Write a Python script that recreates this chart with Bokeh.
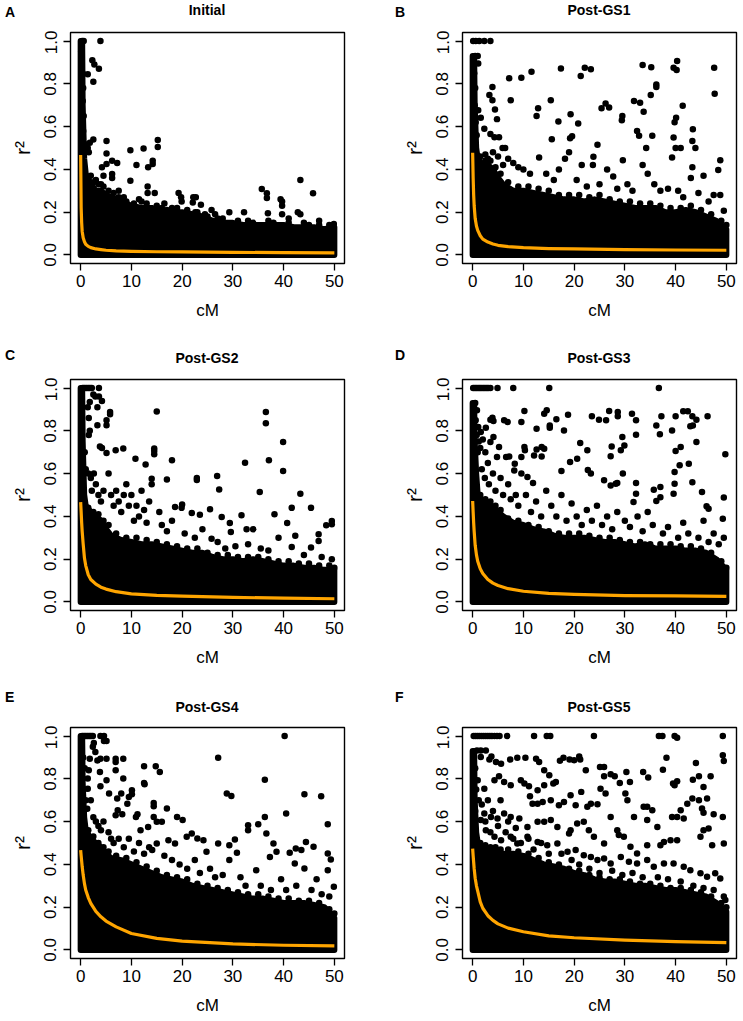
from bokeh.plotting import figure
from bokeh.layouts import column, row
from bokeh.models import FixedTicker, PrintfTickFormatter, Range1d, Div
from bokeh.embed import file_html
from bokeh.resources import INLINE

FONT = "Liberation Sans"

# ---------------- data ----------------
X_TICKS = [0, 10, 20, 30, 40, 50]
Y_TICKS = [0.0, 0.2, 0.4, 0.6, 0.8, 1.0]
LETTERS = ["A", "B", "C", "D", "E", "F"]
TITLES = ["Initial", "Post-GS1", "Post-GS2", "Post-GS3", "Post-GS4", "Post-GS5"]

# upper edge of the solid cloud of points (cM grid shared by all panels)
ENV_X = [0, 0.3, 0.4, 0.7, 1, 2, 3, 4, 5, 6, 8, 10, 12, 14, 16, 18, 20, 22, 24, 26,
         28, 30, 32, 34, 36, 38, 40, 42, 44, 46, 48, 50]
A_env = [1.0, 1.0, 0.7, 0.45, 0.38, 0.33, 0.3, 0.3, 0.28, 0.27, 0.25, 0.23, 0.22, 0.22, 0.2, 0.2,
         0.2, 0.19, 0.18, 0.16, 0.15, 0.15, 0.14, 0.14, 0.14, 0.14, 0.14, 0.13, 0.13, 0.13, 0.12, 0.13]
B_env = [0.93, 0.93, 0.7, 0.5, 0.45, 0.42, 0.42, 0.40, 0.36, 0.33, 0.30, 0.30, 0.29, 0.28, 0.27, 0.26,
         0.26, 0.25, 0.26, 0.25, 0.24, 0.23, 0.22, 0.22, 0.22, 0.2, 0.2, 0.21, 0.2, 0.18, 0.16, 0.12]
C_env = [1.0, 1.0, 0.75, 0.5, 0.45, 0.42, 0.4, 0.38, 0.34, 0.31, 0.29, 0.28, 0.27, 0.27, 0.26, 0.25,
         0.24, 0.23, 0.23, 0.21, 0.2, 0.2, 0.19, 0.2, 0.19, 0.18, 0.17, 0.17, 0.16, 0.16, 0.15, 0.15]
D_env = [0.93, 0.93, 0.75, 0.6, 0.5, 0.47, 0.46, 0.44, 0.42, 0.4, 0.37, 0.36, 0.34, 0.33, 0.31, 0.3,
         0.3, 0.3, 0.29, 0.28, 0.28, 0.27, 0.26, 0.27, 0.25, 0.25, 0.25, 0.24, 0.24, 0.23, 0.2, 0.15]
E_env = [1.0, 1.0, 0.78, 0.62, 0.56, 0.52, 0.5, 0.48, 0.45, 0.43, 0.42, 0.4, 0.38, 0.36, 0.34, 0.33,
         0.32, 0.3, 0.29, 0.28, 0.27, 0.26, 0.25, 0.24, 0.24, 0.23, 0.22, 0.22, 0.22, 0.21, 0.2, 0.15]
F_env = [0.93, 0.93, 0.7, 0.55, 0.5, 0.48, 0.47, 0.46, 0.46, 0.45, 0.45, 0.44, 0.42, 0.4, 0.39, 0.38,
         0.36, 0.35, 0.33, 0.32, 0.32, 0.31, 0.3, 0.3, 0.29, 0.28, 0.28, 0.27, 0.26, 0.25, 0.22, 0.18]

# fitted LD-decay curve (orange)
FIT_X = [0, 0.1, 0.2, 0.3, 0.5, 0.75, 1, 1.5, 2, 3, 4, 5, 7, 10, 15, 20, 30, 40, 50]
A_fit = [0.467, 0.22, 0.15, 0.11, 0.08, 0.062, 0.05, 0.04, 0.034, 0.028, 0.025, 0.022, 0.019,
         0.017, 0.015, 0.014, 0.012, 0.011, 0.01]
B_fit = [0.478, 0.36, 0.28, 0.23, 0.17, 0.135, 0.115, 0.09, 0.074, 0.06, 0.051, 0.045, 0.039,
         0.034, 0.03, 0.028, 0.025, 0.023, 0.022]
C_fit = [0.467, 0.42, 0.37, 0.33, 0.27, 0.205, 0.17, 0.127, 0.105, 0.083, 0.069, 0.06, 0.048,
         0.038, 0.031, 0.027, 0.021, 0.018, 0.015]
D_fit = [0.472, 0.42, 0.37, 0.33, 0.265, 0.22, 0.19, 0.155, 0.133, 0.105, 0.088, 0.077, 0.062,
         0.05, 0.04, 0.035, 0.03, 0.028, 0.026]
E_fit = [0.467, 0.44, 0.415, 0.39, 0.35, 0.31, 0.28, 0.245, 0.218, 0.18, 0.155, 0.135, 0.108,
         0.077, 0.054, 0.041, 0.028, 0.022, 0.019]
F_fit = [0.474, 0.44, 0.41, 0.38, 0.335, 0.3, 0.275, 0.225, 0.195, 0.16, 0.138, 0.122, 0.102,
         0.085, 0.066, 0.057, 0.046, 0.039, 0.034]

# individual points lying above the solid cloud: (cM, r2)
A_pts = [(0.1, 0.95), (0.2, 0.9), (0.4, 0.85), (0.5, 0.78), (0.4, 0.72), (0.6, 0.65), (0.5, 0.58),
         (0.7, 0.52), (1.4, 0.845), (2.3, 0.91), (2.7, 0.89), (3.6, 0.87), (2.5, 0.81), (3.9, 1.0),
         (0.3, 1.0), (0.6, 1.0), (1.8, 0.525), (2.5, 0.54), (1.4, 0.5), (1.6, 0.48), (5.1, 0.533),
         (5.1, 0.474), (5.1, 0.425), (4.2, 0.41), (6.2, 0.44), (7.2, 0.43), (6.2, 0.378), (6.2, 0.36),
         (9.8, 0.49), (9.8, 0.347), (11.0, 0.42), (12.4, 0.498), (13.3, 0.41), (14.2, 0.44),
         (14.2, 0.425), (15.2, 0.537), (15.2, 0.505), (13.2, 0.32), (13.2, 0.29), (14.6, 0.29),
         (19.3, 0.29), (19.8, 0.27), (19.9, 0.25), (22.2, 0.27), (22.7, 0.27), (22.1, 0.245),
         (22.6, 0.2), (23.7, 0.235), (25.8, 0.21), (29.3, 0.2), (32.2, 0.2), (35.7, 0.308),
         (36.7, 0.288), (36.7, 0.266), (36.9, 0.195), (39.4, 0.26), (39.7, 0.25), (39.7, 0.23),
         (39.7, 0.19), (43.3, 0.35), (42.8, 0.2), (43.3, 0.19), (45.8, 0.288), (49.9, 0.145),
         (2.0, 0.37), (3.0, 0.35), (4.0, 0.33), (4.5, 0.37), (7.5, 0.3), (8.5, 0.27), (11.5, 0.26),
         (16.5, 0.24), (18.0, 0.22), (26.5, 0.19), (41.0, 0.17), (47.0, 0.16)]
A_edge = [(1.5, 0.36), (2.5, 0.34), (3.5, 0.33), (4.5, 0.32), (5.5, 0.3), (6.5, 0.29), (7.5, 0.27),
          (9, 0.25), (10.5, 0.24), (12, 0.25), (13, 0.24), (15, 0.23), (16, 0.22), (17, 0.21),
          (19, 0.22), (21, 0.21), (23, 0.2), (24.5, 0.19), (25, 0.18), (27, 0.17), (28, 0.17),
          (31, 0.16), (33, 0.16), (34, 0.15), (37, 0.16), (38, 0.15), (41, 0.15), (44, 0.15),
          (45, 0.14), (47, 0.14), (49, 0.14)]
B_pts = [(0.1, 1.0), (0.6, 1.0), (1.3, 1.0), (2.3, 1.0), (3.5, 1.0), (0.5, 0.93), (1.0, 0.93),
         (1.1, 0.895), (0.3, 0.85), (0.5, 0.78), (0.4, 0.7), (0.6, 0.62), (0.8, 0.56), (1.1, 0.676),
         (1.6, 0.642), (2.3, 0.59), (3.3, 0.748), (3.9, 0.785), (3.9, 0.723), (4.4, 0.68),
         (4.8, 0.635), (3.5, 0.565), (4.3, 0.55), (5.2, 0.55), (5.9, 0.5), (6.4, 0.5), (7.2, 0.826),
         (7.5, 0.723), (9.6, 0.829), (11.6, 0.857), (12.6, 0.65), (12.9, 0.686), (15.4, 0.723),
         (15.6, 0.541), (17.4, 0.872), (16.9, 0.624), (19.3, 0.658), (19.2, 0.546), (19.6, 0.555),
         (20.8, 0.614), (21.3, 0.837), (22.1, 0.875), (23.3, 0.868), (24.6, 0.515), (25.4, 0.686),
         (26.2, 0.708), (26.9, 0.689), (23.8, 0.459), (23.7, 0.42), (27.7, 0.367), (29.5, 0.65),
         (29.4, 0.63), (29.6, 0.443), (31.8, 0.72), (32.4, 0.58), (32.8, 0.557), (33.0, 0.712),
         (33.5, 0.888), (33.7, 0.67), (34.2, 0.5), (35.1, 0.748), (35.2, 0.878), (35.4, 0.557),
         (36.2, 0.797), (36.2, 0.785), (39.6, 0.549), (39.8, 0.62), (40.1, 0.642), (40.0, 0.5),
         (39.6, 0.875), (40.2, 0.865), (40.3, 0.907), (39.3, 0.456), (41.4, 0.697), (41.0, 0.5),
         (43.4, 0.588), (43.3, 0.533), (43.9, 0.5), (43.3, 0.41), (47.6, 0.875), (47.7, 0.754),
         (48.8, 0.443), (48.4, 0.397), (49.5, 0.207), (2.5, 0.47), (3.0, 0.45), (4.0, 0.48),
         (5.0, 0.46), (6.0, 0.42), (7.0, 0.45), (8.0, 0.43), (9.0, 0.41), (10.0, 0.4), (11.3, 0.38),
         (13.1, 0.456), (14.5, 0.38), (16.0, 0.35), (17.0, 0.4), (18.2, 0.45), (19.0, 0.48),
         (20.5, 0.35), (21.5, 0.42), (22.5, 0.32), (25.0, 0.33), (26.5, 0.4), (28.5, 0.31),
         (30.5, 0.33), (31.5, 0.3), (33.5, 0.42), (34.5, 0.38), (35.8, 0.33), (37.0, 0.3),
         (38.5, 0.31), (40.5, 0.3), (41.5, 0.27), (43.0, 0.36), (44.5, 0.29), (45.5, 0.37),
         (46.5, 0.25), (47.5, 0.28), (48.8, 0.28)]
B_edge = [(1.5, 0.46), (2.5, 0.44), (3.5, 0.44), (4.5, 0.41), (5.5, 0.38), (7, 0.34), (9, 0.32),
          (11, 0.32), (13, 0.31), (15, 0.3), (17, 0.28), (19, 0.28), (21, 0.28), (23, 0.27),
          (25, 0.28), (27, 0.26), (29, 0.25), (31, 0.25), (33, 0.24), (35, 0.24), (37, 0.23),
          (39, 0.22), (41, 0.22), (43, 0.23), (45, 0.21), (47, 0.19), (49, 0.16), (50, 0.14)]
C_pts = [(0.4, 1.0), (0.7, 1.0), (1.0, 1.0), (1.3, 1.0), (1.6, 1.0), (1.9, 1.0), (2.2, 1.0),
         (3.6, 1.0), (2.5, 0.97), (2.9, 0.96), (3.6, 0.96), (4.2, 0.94), (1.8, 0.935), (1.4, 0.91),
         (3.3, 0.91), (1.6, 0.86), (5.8, 0.888), (5.8, 0.877), (5.1, 0.85), (5.1, 0.826),
         (3.3, 0.826), (1.8, 0.8), (1.6, 0.78), (3.8, 0.727), (4.2, 0.72), (5.1, 0.696), (6.9, 0.709),
         (8.4, 0.717), (10.8, 0.67), (12.8, 0.643), (14.5, 0.717), (14.5, 0.706), (14.5, 0.69),
         (15.0, 0.89), (18.0, 0.662), (17.0, 0.572), (14.0, 0.576), (14.0, 0.55), (22.9, 0.58),
         (22.9, 0.57), (26.9, 0.589), (27.3, 0.526), (32.4, 0.651), (35.3, 0.514), (36.5, 0.888),
         (36.5, 0.836), (37.1, 0.662), (39.9, 0.748), (39.9, 0.612), (43.3, 0.506), (45.4, 0.44),
         (38.2, 0.41), (41.6, 0.44), (40.7, 0.369), (42.3, 0.31), (49.5, 0.378), (49.5, 0.363),
         (48.4, 0.358), (45.4, 0.254), (46.9, 0.316), (46.9, 0.285), (41.6, 0.257), (20.0, 0.456),
         (19.9, 0.44), (18.6, 0.444), (21.9, 0.416), (23.5, 0.408), (25.5, 0.433), (27.8, 0.397),
         (29.4, 0.369), (31.7, 0.405), (34.0, 0.34), (32.7, 0.34), (29.6, 0.327), (25.8, 0.296),
         (0.8, 0.7), (1.0, 0.62), (1.5, 0.6), (2.0, 0.58), (2.6, 0.6), (3.0, 0.55), (2.2, 0.52),
         (3.5, 0.5), (4.0, 0.47), (4.5, 0.52), (5.5, 0.6), (6.0, 0.5), (6.5, 0.45), (7.0, 0.52),
         (7.5, 0.47), (8.0, 0.42), (8.5, 0.5), (9.0, 0.55), (9.5, 0.45), (10.0, 0.5), (10.5, 0.38),
         (11.0, 0.45), (11.5, 0.4), (12.0, 0.52), (12.5, 0.43), (13.0, 0.37), (13.5, 0.47),
         (15.5, 0.42), (16.0, 0.36), (17.0, 0.33), (18.0, 0.38), (20.5, 0.32), (22.5, 0.3),
         (24.0, 0.34), (27.0, 0.28), (28.5, 0.25), (30.5, 0.26), (33.0, 0.27), (35.5, 0.25),
         (37.0, 0.24), (39.0, 0.3), (44.0, 0.22), (47.5, 0.21), (49.5, 0.2)]
C_edge = [(1.5, 0.44), (2.5, 0.42), (3.5, 0.41), (4.5, 0.38), (5.5, 0.36), (7, 0.32), (9, 0.3),
          (11, 0.3), (13, 0.29), (15, 0.28), (17, 0.27), (19, 0.26), (21, 0.25), (23, 0.25),
          (25, 0.23), (27, 0.22), (29, 0.22), (31, 0.21), (33, 0.21), (35, 0.21), (37, 0.2),
          (39, 0.19), (41, 0.19), (43, 0.18), (45, 0.18), (47, 0.17), (49, 0.17), (50, 0.16)]
D_pts = [(0.1, 1.0), (0.4, 1.0), (0.7, 1.0), (1.0, 1.0), (1.3, 1.0), (1.6, 1.0), (1.9, 1.0),
         (2.2, 1.0), (2.5, 1.0), (2.8, 1.0), (3.1, 1.0), (3.5, 1.0), (4.9, 1.0), (8.0, 1.0),
         (15.1, 1.0), (36.7, 1.0), (0.85, 0.896), (1.1, 0.818), (1.6, 0.794), (2.6, 0.815),
         (3.5, 0.852), (3.9, 0.861), (4.1, 0.846), (6.2, 0.849), (6.9, 0.841), (9.6, 0.841),
         (10.2, 0.893), (12.6, 0.81), (14.1, 0.88), (14.6, 0.896), (15.2, 0.825), (15.2, 0.815),
         (16.5, 0.854), (18.0, 0.802), (18.8, 0.875), (23.5, 0.868), (24.9, 0.852), (26.3, 0.849),
         (26.9, 0.893), (28.6, 0.888), (28.6, 0.868), (31.4, 0.88), (32.2, 0.849), (32.2, 0.782),
         (36.2, 0.825), (37.2, 0.868), (36.9, 0.784), (39.3, 0.802), (40.0, 0.868), (41.5, 0.891),
         (42.4, 0.891), (43.3, 0.868), (42.9, 0.822), (43.4, 0.825), (44.1, 0.852), (46.3, 0.868),
         (49.8, 0.69), (49.5, 0.488), (49.3, 0.389), (3.5, 0.748), (4.1, 0.771), (5.2, 0.724),
         (4.8, 0.678), (6.6, 0.678), (7.2, 0.68), (8.3, 0.646), (9.6, 0.678), (10.2, 0.724),
         (10.3, 0.709), (12.1, 0.685), (12.6, 0.713), (13.6, 0.724), (14.1, 0.716), (13.6, 0.68),
         (8.2, 0.615), (9.6, 0.6), (10.8, 0.584), (11.9, 0.556), (17.5, 0.612), (20.6, 0.67),
         (21.2, 0.743), (22.6, 0.709), (22.7, 0.617), (23.3, 0.6), (19.2, 0.654), (25.9, 0.569),
         (27.2, 0.681), (27.4, 0.727), (27.2, 0.545), (28.2, 0.553), (28.5, 0.556), (29.2, 0.709),
         (29.5, 0.771), (29.6, 0.6), (29.9, 0.732), (32.2, 0.556), (32.2, 0.506), (31.7, 0.467),
         (35.7, 0.525), (36.2, 0.472), (37.0, 0.537), (37.0, 0.49), (39.6, 0.506), (39.8, 0.553),
         (39.8, 0.607), (40.0, 0.706), (41.0, 0.724), (40.8, 0.639), (42.6, 0.646), (43.3, 0.56),
         (45.2, 0.514), (46.1, 0.447), (46.5, 0.436), (44.1, 0.748), (0.5, 0.93), (0.3, 0.9),
         (0.6, 0.85), (0.8, 0.78), (1.2, 0.75), (1.0, 0.7), (1.5, 0.72), (2.0, 0.76), (2.5, 0.7),
         (3.0, 0.65), (1.8, 0.62), (2.4, 0.58), (3.2, 0.55), (4.0, 0.6), (4.5, 0.52), (5.5, 0.58),
         (6.0, 0.5), (7.0, 0.55), (7.5, 0.48), (8.5, 0.5), (9.0, 0.45), (10.5, 0.5), (11.5, 0.42),
         (12.5, 0.47), (13.5, 0.4), (14.5, 0.52), (15.5, 0.45), (16.5, 0.4), (17.5, 0.5),
         (18.5, 0.38), (19.5, 0.46), (20.5, 0.4), (21.5, 0.36), (22.5, 0.43), (23.5, 0.38),
         (24.5, 0.45), (25.5, 0.36), (26.5, 0.4), (27.5, 0.34), (28.5, 0.42), (30.0, 0.38),
         (31.0, 0.35), (32.5, 0.4), (33.5, 0.33), (34.5, 0.42), (35.5, 0.36), (37.5, 0.32),
         (38.5, 0.35), (40.5, 0.3), (41.5, 0.37), (42.5, 0.32), (44.5, 0.3), (45.5, 0.38),
         (46.5, 0.28), (47.5, 0.32), (48.5, 0.27), (49.5, 0.3)]
D_edge = [(1.5, 0.5), (2.5, 0.48), (3.5, 0.47), (4.5, 0.45), (5.5, 0.43), (7, 0.39), (9, 0.38),
          (11, 0.36), (13, 0.35), (15, 0.33), (17, 0.32), (19, 0.32), (21, 0.32), (23, 0.31),
          (25, 0.3), (27, 0.3), (29, 0.29), (31, 0.28), (33, 0.28), (35, 0.27), (37, 0.27),
          (39, 0.27), (41, 0.26), (43, 0.26), (45, 0.25), (47, 0.23), (49, 0.19), (50, 0.16)]
E_pts = [(0.3, 1.0), (0.6, 1.0), (0.9, 1.0), (1.2, 1.0), (1.5, 1.0), (1.8, 1.0), (2.1, 1.0),
         (2.4, 1.0), (2.6, 0.967), (2.4, 0.95), (3.9, 1.0), (4.6, 1.0), (4.6, 0.977), (5.1, 0.977),
         (40.2, 1.0), (2.9, 0.925), (1.8, 0.894), (3.3, 0.886), (3.9, 0.894), (5.1, 0.894),
         (6.9, 0.894), (8.4, 0.894), (6.9, 0.879), (1.6, 0.84), (6.9, 0.84), (3.8, 0.832),
         (1.4, 0.801), (5.1, 0.793), (8.4, 0.801), (3.9, 0.765), (1.4, 0.754), (5.6, 0.731),
         (7.2, 0.708), (8.0, 0.731), (9.5, 0.715), (10.1, 0.747), (10.1, 0.728), (9.2, 0.684),
         (7.3, 0.653), (6.9, 0.63), (8.2, 0.635), (12.5, 0.859), (12.5, 0.781), (12.6, 0.775),
         (14.8, 0.859), (15.6, 0.832), (17.0, 0.661), (14.4, 0.687), (14.4, 0.672), (10.9, 0.622),
         (11.2, 0.635), (14.4, 0.622), (15.0, 0.599), (16.0, 0.599), (19.0, 0.622), (20.1, 0.607),
         (27.1, 0.899), (28.8, 0.731), (29.7, 0.72), (27.1, 0.498), (29.3, 0.49), (29.3, 0.42),
         (33.0, 0.583), (35.0, 0.588), (33.0, 0.56), (36.3, 0.796), (36.3, 0.622), (36.6, 0.544),
         (40.5, 0.638), (44.1, 0.728), (44.4, 0.505), (45.9, 0.482), (47.4, 0.718), (48.7, 0.588),
         (48.7, 0.451), (49.3, 0.423), (48.7, 0.373), (49.9, 0.295), (30.4, 0.516), (30.8, 0.454),
         (38.0, 0.498), (38.6, 0.459), (37.3, 0.435), (41.2, 0.454), (42.4, 0.474), (43.5, 0.467),
         (44.1, 0.381), (42.2, 0.404), (34.6, 0.373), (24.2, 0.513), (23.0, 0.521), (21.9, 0.544),
         (20.9, 0.529), (24.8, 0.459), (17.3, 0.513), (18.6, 0.498), (13.3, 0.575), (11.8, 0.56),
         (15.0, 0.498), (14.1, 0.467), (0.5, 0.9), (0.8, 0.85), (0.6, 0.75), (1.0, 0.7), (1.3, 0.66),
         (2.0, 0.7), (2.5, 0.62), (3.0, 0.6), (3.5, 0.58), (4.0, 0.56), (4.5, 0.6), (5.5, 0.55),
         (6.0, 0.52), (6.5, 0.5), (7.5, 0.52), (8.5, 0.48), (9.5, 0.52), (10.5, 0.46), (11.5, 0.5),
         (12.5, 0.45), (13.5, 0.48), (16.5, 0.44), (18.0, 0.42), (19.5, 0.4), (21.0, 0.38),
         (22.5, 0.42), (23.5, 0.36), (25.5, 0.38), (26.5, 0.34), (28.0, 0.35), (31.5, 0.34),
         (32.5, 0.3), (35.5, 0.3), (37.5, 0.28), (39.5, 0.33), (40.5, 0.28), (42.5, 0.3),
         (45.5, 0.28), (46.5, 0.33), (47.5, 0.26), (49.0, 0.25)]
E_edge = [(1.5, 0.56), (2.5, 0.53), (3.5, 0.5), (4.5, 0.48), (5.5, 0.46), (7, 0.44), (9, 0.43),
          (11, 0.41), (13, 0.39), (15, 0.37), (17, 0.35), (19, 0.34), (21, 0.33), (23, 0.31),
          (25, 0.3), (27, 0.29), (29, 0.28), (31, 0.27), (33, 0.26), (35, 0.26), (37, 0.25),
          (39, 0.24), (41, 0.24), (43, 0.23), (45, 0.23), (47, 0.22), (49, 0.19), (50, 0.17)]
F_pts = [(0.2, 1.0), (0.6, 1.0), (1.0, 1.0), (1.4, 1.0), (1.8, 1.0), (2.2, 1.0), (2.6, 1.0),
         (3.0, 1.0), (3.4, 1.0), (3.8, 1.0), (4.3, 1.0), (4.8, 1.0), (5.3, 1.0), (6.8, 1.0),
         (12.1, 1.0), (14.6, 1.0), (15.3, 1.0), (23.9, 1.0), (36.7, 1.0), (37.4, 1.0), (39.8, 1.0),
         (40.3, 0.992), (49.3, 1.0), (0.85, 0.933), (1.6, 0.933), (2.6, 0.933), (1.6, 0.902),
         (3.3, 0.89), (3.7, 0.905), (4.6, 0.879), (5.6, 0.871), (7.4, 0.89), (8.8, 0.899),
         (10.4, 0.899), (12.5, 0.894), (13.1, 0.879), (14.1, 0.84), (15.1, 0.817), (17.2, 0.885),
         (17.9, 0.899), (19.1, 0.89), (20.0, 0.887), (21.0, 0.905), (21.2, 0.89), (22.3, 0.84),
         (25.1, 0.855), (25.9, 0.855), (25.9, 0.812), (27.2, 0.821), (28.0, 0.812), (29.0, 0.781),
         (30.3, 0.832), (31.0, 0.785), (33.6, 0.832), (34.6, 0.806), (38.2, 0.899), (37.5, 0.843),
         (39.5, 0.778), (39.8, 0.77), (40.3, 0.789), (43.4, 0.796), (44.0, 0.874), (44.6, 0.812),
         (45.5, 0.762), (46.9, 0.812), (49.3, 0.91), (49.5, 0.883), (49.3, 0.622), (49.5, 0.498),
         (1.0, 0.793), (2.3, 0.754), (4.3, 0.793), (5.2, 0.812), (6.2, 0.785), (7.5, 0.77),
         (9.5, 0.793), (10.2, 0.778), (11.1, 0.765), (11.8, 0.684), (11.3, 0.718), (12.8, 0.747),
         (14.1, 0.77), (15.9, 0.778), (16.4, 0.785), (12.8, 0.684), (13.8, 0.692), (15.4, 0.7),
         (17.0, 0.677), (18.0, 0.692), (19.3, 0.723), (20.3, 0.677), (21.4, 0.739), (22.6, 0.669),
         (23.3, 0.684), (24.6, 0.681), (25.2, 0.754), (26.2, 0.731), (27.2, 0.622), (28.5, 0.56),
         (30.1, 0.731), (30.5, 0.7), (31.8, 0.622), (33.7, 0.669), (34.4, 0.669), (35.4, 0.653),
         (34.4, 0.607), (36.4, 0.575), (39.3, 0.622), (40.3, 0.622), (41.0, 0.653), (41.6, 0.614),
         (42.3, 0.684), (43.3, 0.708), (44.6, 0.7), (45.2, 0.661), (45.5, 0.641), (46.2, 0.708),
         (47.5, 0.635), (46.5, 0.568), (45.5, 0.56), (44.9, 0.529), (47.2, 0.49), (40.3, 0.513),
         (39.0, 0.513), (37.7, 0.505), (37.0, 0.49), (34.4, 0.49), (32.4, 0.451), (31.1, 0.482),
         (29.8, 0.529), (28.8, 0.537), (25.9, 0.498), (23.9, 0.529), (22.9, 0.56), (21.9, 0.599),
         (20.6, 0.591), (19.3, 0.56), (19.0, 0.544), (16.7, 0.575), (15.4, 0.607), (14.1, 0.599),
         (12.8, 0.599), (10.8, 0.575), (9.2, 0.614), (7.5, 0.622), (6.2, 0.638), (4.9, 0.614),
         (3.6, 0.622), (2.3, 0.638), (1.6, 0.607), (2.6, 0.56), (4.3, 0.529), (5.6, 0.513),
         (7.5, 0.529), (8.8, 0.498), (10.8, 0.529), (12.8, 0.505), (14.7, 0.49), (16.7, 0.498),
         (18.7, 0.459), (20.3, 0.467), (21.9, 0.443), (23.3, 0.435), (24.6, 0.42), (25.9, 0.428),
         (27.2, 0.404), (29.2, 0.435), (30.8, 0.412), (32.4, 0.404), (34.4, 0.42), (35.7, 0.389),
         (37.7, 0.404), (39.6, 0.404), (41.6, 0.389), (42.9, 0.373), (44.9, 0.358), (46.2, 0.342),
         (47.8, 0.358), (48.8, 0.334), (49.8, 0.233), (0.5, 0.85), (0.7, 0.75), (0.5, 0.65),
         (1.2, 0.7), (1.8, 0.68), (2.5, 0.6), (3.0, 0.7), (3.5, 0.55), (4.0, 0.65), (5.0, 0.58),
         (5.5, 0.7), (6.5, 0.55), (7.0, 0.6), (8.0, 0.52), (8.5, 0.57), (9.5, 0.5), (11.0, 0.52),
         (12.0, 0.47), (13.5, 0.5), (15.0, 0.45), (17.5, 0.45), (19.5, 0.42), (21.0, 0.4),
         (23.0, 0.38), (25.0, 0.36), (27.5, 0.37), (29.5, 0.35), (31.5, 0.36), (33.5, 0.34),
         (36.5, 0.34), (38.5, 0.33), (41.0, 0.32), (43.5, 0.3), (45.5, 0.29), (47.5, 0.28),
         (49.5, 0.25)]
F_edge = [(1.5, 0.5), (2.5, 0.49), (3.5, 0.48), (4.5, 0.48), (5.5, 0.47), (7, 0.47), (9, 0.46),
          (11, 0.45), (13, 0.43), (15, 0.41), (17, 0.4), (19, 0.38), (21, 0.37), (23, 0.35),
          (25, 0.34), (27, 0.33), (29, 0.33), (31, 0.32), (33, 0.31), (35, 0.31), (37, 0.3),
          (39, 0.29), (41, 0.29), (43, 0.28), (45, 0.27), (47, 0.25), (49, 0.22), (50, 0.2)]

ENVS = [A_env, B_env, C_env, D_env, E_env, F_env]
FITS = [A_fit, B_fit, C_fit, D_fit, E_fit, F_fit]
PTS = [A_pts + A_edge, B_pts + B_edge, C_pts + C_edge, D_pts + D_edge, E_pts + E_edge, F_pts + F_edge]

# ---------------- layout (pixels) ----------------
ROW_H = [345, 344, 332]          # height of each row of panels
HEAD_H = [30, 32, 36]            # header strip (panel letter + title) above each figure
FRAME_H = 231
TITLE_TOP = [2, 5, 10]
LETTER_TOP = [4, 2, 0]


def header(i):
    r, c = divmod(i, 2)
    left = c == 0
    w = 370 if left else 373
    frame_left = 70 if left else 92
    letter_left = 5 if left else 25
    html = (
        f'<div style="position:relative;width:{w}px;height:{HEAD_H[r]}px;'
        f"font-family:'{FONT}',Arial,sans-serif;font-weight:bold;font-size:14px;"
        f'line-height:16px;color:#000;">'
        f'<span style="position:absolute;left:{letter_left}px;top:{LETTER_TOP[r]}px;">'
        f'{LETTERS[i]}</span>'
        f'<span style="position:absolute;left:{frame_left}px;width:274px;text-align:center;'
        f'top:{TITLE_TOP[r]}px;">{TITLES[i]}</span></div>'
    )
    return Div(text=html, width=w, height=HEAD_H[r], margin=(0, 0, 0, 0))


def make_panel(i):
    r, c = divmod(i, 2)
    left = c == 0
    w = 370 if left else 373
    h = ROW_H[r] - HEAD_H[r]
    top = 2
    p = figure(width=w, height=h, output_backend="svg", toolbar_location=None,
               x_range=Range1d(-2, 52), y_range=Range1d(-0.04, 1.04),
               min_border_left=70 if left else 92, min_border_right=26 if left else 7,
               min_border_top=top, min_border_bottom=h - top - FRAME_H)
    p.outline_line_color = "black"
    p.outline_line_width = 1.4
    p.background_fill_color = "white"
    p.border_fill_color = "white"
    p.grid.visible = False

    p.xaxis.ticker = FixedTicker(ticks=X_TICKS)
    p.yaxis.ticker = FixedTicker(ticks=Y_TICKS)
    p.yaxis.formatter = PrintfTickFormatter(format="%.1f")
    for ax in (p.xaxis, p.yaxis):
        ax.axis_line_color = None
        ax.major_tick_line_color = "black"
        ax.major_tick_line_width = 1.3
        ax.major_tick_out = 7
        ax.major_tick_in = 0
        ax.minor_tick_line_color = None
        ax.major_label_text_font = FONT
        ax.major_label_text_font_size = "17px"
        ax.major_label_text_color = "black"
        ax.axis_label_text_font = FONT
        ax.axis_label_text_font_style = "normal"
        ax.axis_label_text_color = "black"
    p.xaxis.axis_label = "cM"
    p.xaxis.axis_label_text_font_size = "17px"
    p.xaxis.major_label_standoff = 4
    p.xaxis.axis_label_standoff = 11
    p.yaxis.axis_label = "r²"
    p.yaxis.axis_label_text_font_size = "21px"
    p.yaxis.major_label_orientation = "parallel"
    p.yaxis.major_label_standoff = 7
    p.yaxis.axis_label_standoff = 8

    env = ENVS[i]
    px = ENV_X + [ENV_X[-1], ENV_X[0]]
    py = env + [0.0, 0.0]
    p.patch(px, py, fill_color="black", line_color="black", line_width=6, line_join="round")
    xs = [q[0] for q in PTS[i]]
    ys = [q[1] for q in PTS[i]]
    p.scatter(xs, ys, size=6.5, fill_color="black", line_color=None)
    p.line(FIT_X, FITS[i], line_color="#FFA500", line_width=3.2, line_join="round")
    return column(header(i), p, spacing=0)


panels = [make_panel(i) for i in range(6)]
layout = column(row(panels[0], panels[1]), row(panels[2], panels[3]), row(panels[4], panels[5]))

open("out.html", "w").write(file_html(layout, INLINE, title="LD decay"))
